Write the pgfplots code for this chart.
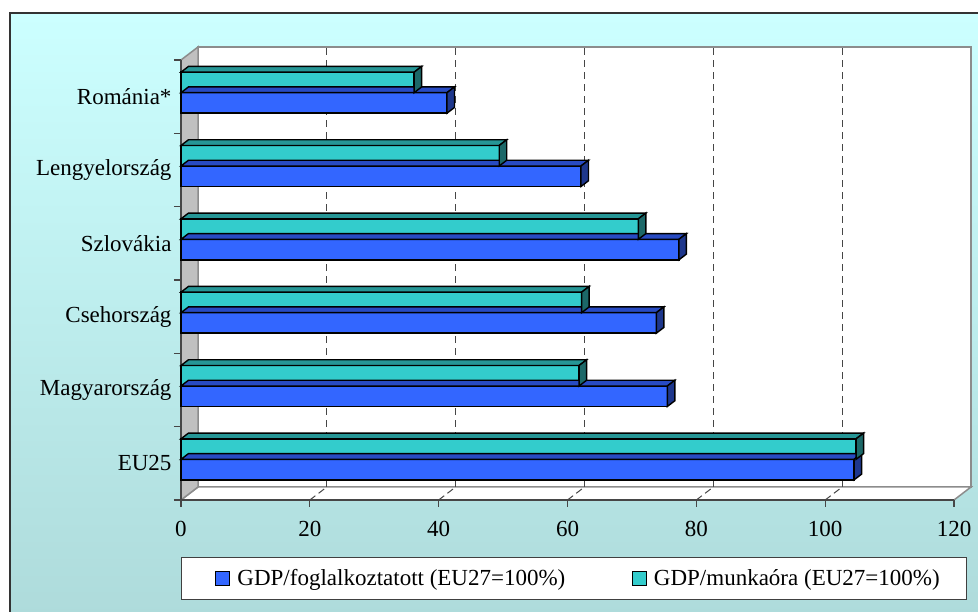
\documentclass[border=0pt]{standalone}
\usepackage{fontspec}
\setmainfont{Liberation Serif}
\usepackage{pgfplots}
\usepackage{pgfplotstable}
\pgfplotsset{compat=1.18}
\definecolor{barblue}{RGB}{51,102,255}
\definecolor{barbluetop}{RGB}{40,75,195}
\definecolor{barblueside}{RGB}{30,55,140}
\definecolor{barcyan}{RGB}{51,204,204}
\definecolor{barcyantop}{RGB}{38,150,150}
\definecolor{barcyanside}{RGB}{28,104,104}
\definecolor{bgtop}{RGB}{204,255,255}
\definecolor{bgbot}{RGB}{174,219,219}
\definecolor{wallgray}{RGB}{192,192,192}
\definecolor{edgegray}{RGB}{140,140,140}
\definecolor{axisdark}{RGB}{70,70,70}

\pgfdeclareplotmark{nothing3d}{}

\pgfplotstableread{
y v
0.5 104.5
1.5 75.5
2.5 73.8
3.5 77.3
4.5 62.1
5.5 41.3
}\blueT
\pgfplotstableread{
y v
0.5 104.8
1.5 61.8
2.5 62.2
3.5 71.0
4.5 49.4
5.5 36.2
}\cyanT

\newcommand\ux{6.44167}
\pgfplotsset{
 extrude/.style n args={3}{%
   only marks, mark=nothing3d, forget plot, scatter,
   visualization depends on={\thisrow{v} \as \val},
   scatter/@pre marker code/.code={%
     \pgfmathsetmacro\L{\val*\ux}%
     \pgfmathsetmacro\yt{#1+10.25}%
     \pgfmathsetmacro\yb{#1-10.25}%
     \filldraw[fill=#2, draw=black, line width=1.4pt]
       (-\L pt,\yt pt) -- (0pt,\yt pt) -- (7.5pt,\yt pt+5.75pt) -- (-\L pt+7.5pt,\yt pt+5.75pt) -- cycle;
     \filldraw[fill=#3, draw=black, line width=1.4pt]
       (0pt,\yb pt) -- (0pt,\yt pt) -- (7.5pt,\yt pt+5.75pt) -- (7.5pt,\yb pt+5.75pt) -- cycle;
   },
   scatter/@post marker code/.code={},
 },
}

\begin{document}
\begin{tikzpicture}
\useasboundingbox (0pt,0pt) rectangle (978pt,612pt);
\begin{scope}[x=1pt,y=1pt]
\fill[white] (0,0) rectangle (978,612);
\shade[top color=bgtop, bottom color=bgbot] (10,-5) rectangle (990,599);
\draw[black!80, line width=1.5pt] (10,-5) rectangle (990,599);
% back wall
\filldraw[fill=white, draw=edgegray, line width=1.5pt] (198,125) rectangle (971,565);
% floor
\filldraw[fill=white, draw=edgegray, line width=1.5pt] (181,112) -- (954,112) -- (971,125) -- (198,125) -- cycle;
% left wall
\filldraw[fill=wallgray, draw=edgegray, line width=1.5pt] (181,112) -- (198,125) -- (198,565) -- (181,552) -- cycle;
\end{scope}
\begin{axis}[
  at={(181pt,112pt)}, anchor=south west,
  x=6.44167pt, y=73.3333pt,
  xmin=0, xmax=120, ymin=0, ymax=6,
  clip=false,
  axis lines*=left,
  axis line style={draw=axisdark, line width=1.2pt},
  tick align=outside, major tick length=7pt,
  tick style={draw=axisdark, line width=1.2pt},
  xtick={0,20,...,120},
  ytick={0,1,2,3,4,5,6},
  yticklabels={EU25,Magyarország,Csehország,Szlovákia,Lengyelország,Románia*,{}},
  yticklabel style={yshift=36.67pt, xshift=1pt},
  xticklabel style={yshift=-11pt},
  tick label style={font=\fontsize{23}{27}\selectfont},
  /pgf/number format/assume math mode=true,
  legend columns=2,
  legend style={at={(0,0)}, anchor=north west, yshift=-57pt,
     draw=black!75, line width=1pt, fill=white,
     inner xsep=0pt, inner ysep=0pt, column sep=0pt,
     font=\fontsize{23}{27}\selectfont,
     nodes={inner sep=0pt}},
  legend cell align=left,
]
\pgfplotsinvokeforeach{20,40,60,80,100}{
  \draw[axisdark, line width=1pt, dash pattern=on 7pt off 5pt]
    ([xshift=17pt,yshift=13pt]axis cs:#1,0) -- ([xshift=17pt,yshift=13pt]axis cs:#1,6);
  \draw[axisdark, line width=1pt, dash pattern=on 7pt off 4pt]
    (axis cs:#1,0) -- ([xshift=17pt,yshift=13pt]axis cs:#1,0);
}
\addplot[xbar, bar width=20.5pt, bar shift=-6.25pt, fill=barblue, draw=black, line width=1.4pt,
  legend image code/.code={\path[draw=none,fill=none] (-34pt,-21pt) rectangle (22pt,21pt);
     \path[draw=black, fill=barblue, line width=1pt] (0pt,-7pt) rectangle (14pt,7pt);}]
  table[x=v,y=y]{\blueT};
\addlegendentry{\makebox[395pt][l]{GDP/foglalkoztatott (EU27=100\%)}}
\addplot[extrude={-6.25}{barbluetop}{barblueside}] table[x=v,y=y]{\blueT};
\addplot[xbar, bar width=20.5pt, bar shift=14.25pt, fill=barcyan, draw=black, line width=1.4pt,
  legend image code/.code={\path[draw=none,fill=none] (0pt,-21pt) rectangle (21pt,21pt);
     \path[draw=black, fill=barcyan, line width=1pt] (0pt,-7pt) rectangle (14pt,7pt);}]
  table[x=v,y=y]{\cyanT};
\addlegendentry{\makebox[312pt][l]{GDP/munkaóra (EU27=100\%)}}
\addplot[extrude={14.25}{barcyantop}{barcyanside}] table[x=v,y=y]{\cyanT};
\end{axis}
\end{tikzpicture}
\end{document}
